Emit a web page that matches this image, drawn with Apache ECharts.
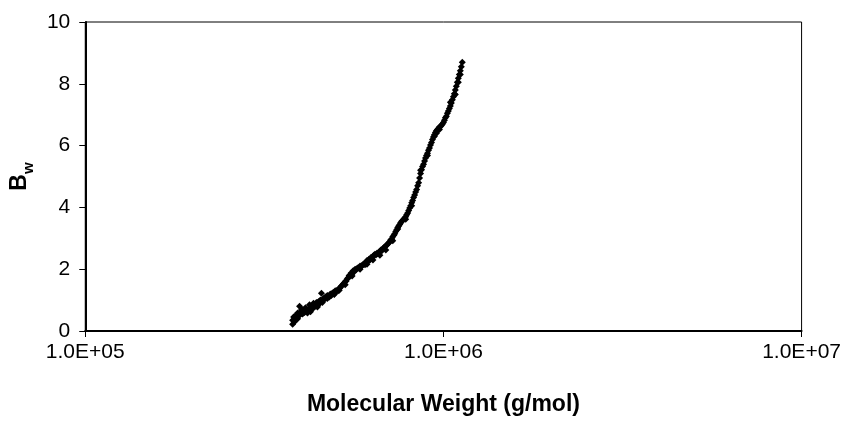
<!DOCTYPE html>
<html>
<head>
<meta charset="utf-8">
<script src="https://cdn.jsdelivr.net/npm/echarts@6/dist/echarts.min.js"></script>
<style>
html,body{margin:0;padding:0;background:#fff;}
#chart{width:844px;height:421px;}
</style>
</head>
<body>
<div id="chart"></div>
<script>
// Molecular weight (g/mol) of each point
const molWeight = [
379300,379300,381700,384200,386600,389100,391600,394100,396600,399100,
401700,404300,406900,409500,412100,414800,417400,420100,422800,425500,
428200,430900,433700,436500,439300,442100,444900,447700,450600,453500,
456400,459300,462200,465100,468100,471100,474100,477100,480200,483200,
486300,489400,492600,495700,498900,502100,505300,508500,511800,515000,
518300,521600,525000,528400,531700,535100,538600,542000,545500,549000,
552500,556000,559600,563200,566800,570400,574000,577700,581400,585100,
588900,592600,596400,600200,604000,607900,611800,615700,619600,623600,
627600,631600,635600,639700,643800,647900,652000,656200,660400,664600,
668900,673100,677400,681900,686200,690600,695000,699500,704000,708500,
713000,717600,722100,726800,731400,736100,740800,745500,750300,755100,
759900,764800,769700,774700,779600,784600,789700,794700,799800,804900,
810100,815300,820500,825700,831000,836300,841700,847000,852500,857900,
863400,868900,874500,880000,885700,891300,897000,902800,908500,914400,
920200,926100,932000,938000,944000,950000,956100,962200,968400,974600,
980800,987100,993600,1000000,1006400,1012800,1019300,1025800,1032400,1039000,
1045700,1052400,1059100,1065900,1072700,1079600,1086500,1093400,1100400,1107500,
1114600,1121700,1128900,
1045700,1079600,1100400,1114600,956100,944000,974600,902800,863400,
391600,399100,412100,425500,444900,459300,474100,495700,511800,531700,
556000,585100,611800,635600,664600,690600,722100,745500,784600,815300
];
// B_w value of each point
const bwValues = [
0.22,0.35,0.45,0.30,0.50,0.42,0.58,0.48,0.80,0.62,
0.70,0.55,0.68,0.60,0.75,0.62,0.58,0.70,0.85,0.68,
0.80,0.72,0.90,0.78,0.85,0.92,0.82,0.95,0.88,1.00,
1.22,0.98,1.05,1.02,1.10,1.08,1.15,1.12,1.10,1.20,
1.15,1.22,1.25,1.20,1.30,1.28,1.32,1.30,1.38,1.40,
1.45,1.48,1.52,1.55,1.60,1.62,1.68,1.72,1.80,1.78,
1.88,1.85,1.95,1.92,2.00,1.98,2.02,2.05,2.03,2.10,
2.08,2.12,2.15,2.18,2.14,2.22,2.28,2.25,2.32,2.30,
2.38,2.36,2.42,2.45,2.48,2.46,2.52,2.50,2.55,2.58,
2.62,2.60,2.66,2.70,2.72,2.75,2.78,2.82,2.85,2.90,
2.95,2.98,3.05,3.10,3.15,3.22,3.28,3.35,3.40,3.45,
3.50,3.55,3.58,3.62,3.66,3.70,3.76,3.82,3.90,3.98,
4.05,4.15,4.22,4.32,4.40,4.50,4.58,4.70,4.80,4.95,
5.10,5.22,5.32,5.40,5.50,5.60,5.68,5.75,5.85,5.92,
6.02,6.10,6.20,6.28,6.35,6.42,6.48,6.52,6.55,6.60,
6.62,6.65,6.70,6.75,6.82,6.90,6.95,7.05,7.12,7.20,
7.28,7.38,7.48,7.58,7.68,7.80,7.92,8.05,8.18,8.30,
8.42,8.55,8.70,
7.40,7.65,8.05,8.30,6.40,6.30,6.52,5.68,5.20,
0.40,0.55,0.70,0.62,0.78,0.92,1.05,1.18,1.32,1.50,
1.78,2.00,2.16,2.30,2.45,2.62,2.92,3.30,3.62,4.05
];
const xTickLabels = {5: '1.0E+05', 6: '1.0E+06', 7: '1.0E+07'};
const yTicks = [0, 2, 4, 6, 8, 10];

const points = molWeight.map((m, i) => [m, bwValues[i]]);

const chart = echarts.init(document.getElementById('chart'), null, {renderer: 'canvas'});
chart.setOption({
  animation: false,
  backgroundColor: '#ffffff',
  grid: {
    left: 79, right: 42, top: 22, bottom: 90,
    show: true, borderColor: '#000', borderWidth: 1, backgroundColor: 'transparent'
  },
  xAxis: {
    type: 'log', logBase: 10, min: 1e5, max: 1e7,
    name: 'Molecular Weight (g/mol)',
    nameLocation: 'middle', nameGap: 62,
    nameTextStyle: {fontFamily: 'Liberation Sans, Arial', fontWeight: 'bold', fontSize: 23, color: '#000'},
    axisLine: {show: true, onZero: false, lineStyle: {color: '#000', width: 2}},
    axisTick: {show: true, inside: false, length: 6, lineStyle: {color: '#000', width: 1}},
    minorTick: {show: false},
    splitLine: {show: false},
    axisLabel: {
      margin: 11, color: '#000', fontFamily: 'Liberation Sans, Arial', fontSize: 21,
      formatter: v => xTickLabels[Math.round(Math.log10(v))] || ''
    }
  },
  yAxis: {
    type: 'value', min: 0, max: 10, interval: 2,
    name: '{b|B}{s|w}',
    nameLocation: 'middle', nameGap: 54, nameRotate: 90,
    nameTextStyle: {
      color: '#000',
      rich: {
        b: {fontFamily: 'Liberation Sans, Arial', fontWeight: 'bold', fontSize: 23, color: '#000', verticalAlign: 'bottom', lineHeight: 28},
        s: {fontFamily: 'Liberation Sans, Arial', fontWeight: 'bold', fontSize: 15, color: '#000', verticalAlign: 'bottom', lineHeight: 28, padding: [0, 0, -5, 0]}
      }
    },
    axisLine: {show: true, onZero: false, lineStyle: {color: '#000', width: 2}},
    axisTick: {show: true, inside: false, length: 6, lineStyle: {color: '#000', width: 1}},
    splitLine: {show: false},
    axisLabel: {
      margin: 15, color: '#000', fontFamily: 'Liberation Sans, Arial', fontSize: 21,
      formatter: v => yTicks.indexOf(v) >= 0 ? String(v) : ''
    }
  },
  series: [{
    type: 'scatter',
    data: points,
    symbol: 'diamond',
    symbolSize: 7,
    itemStyle: {color: '#000', opacity: 1},
    silent: true
  }]
});
</script>
</body>
</html>
